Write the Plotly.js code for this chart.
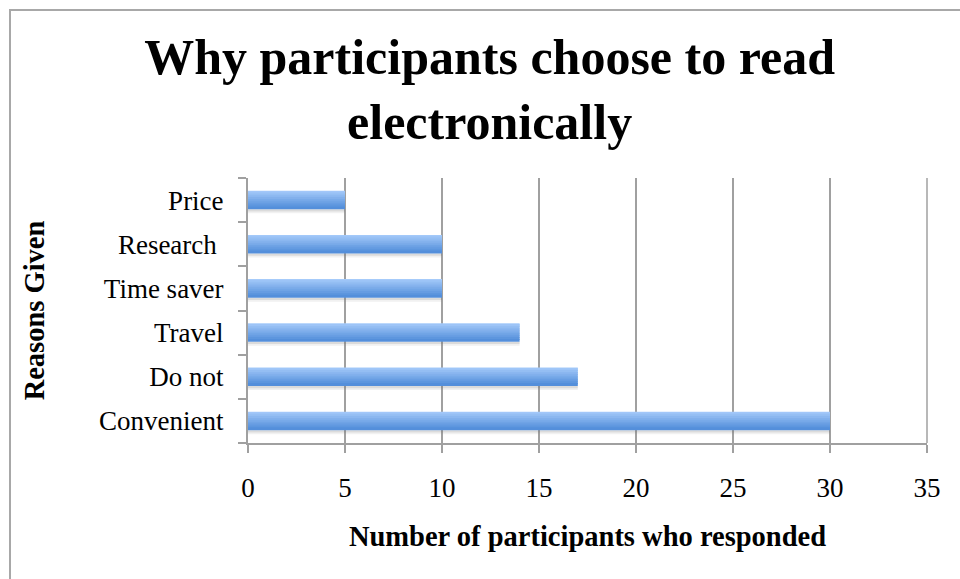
<!DOCTYPE html>
<html>
<head>
<meta charset="utf-8">
<script src="https://cdn.plot.ly/plotly-3.0.1.min.js"></script>
<style>
  html, body { margin: 0; padding: 0; background: #fff; }
  #wrap { position: relative; width: 960px; height: 579px; overflow: hidden; }
  #chart { position: absolute; left: 0; top: 0; width: 960px; height: 579px; }
  #frame { position: absolute; left: 9px; top: 9px; width: 1000px; height: 700px;
           border-left: 2px solid #a8a8a8; border-top: 2px solid #a8a8a8; pointer-events: none; }
</style>
</head>
<body>
<div id="wrap">
  <div id="chart"></div>
  <div id="frame"></div>
</div>
<script>
// ---- data ----
const categories = ['Convenient', 'Do not', 'Travel', 'Time saver', 'Research ', 'Price'];
const counts = [30, 17, 14, 10, 10, 5];
const xTickValues = [0, 5, 10, 15, 20, 25, 30, 35];

const titleText = 'Why participants choose to read<br>electronically';
const xTitle = 'Number of participants who responded';
const yTitle = 'Reasons Given';

// ---- styling (gradient bars built from stacked bands) ----
const barWidth = 0.42;
const topColor = [166, 203, 250];
const bottomColor = [84, 143, 219];
const n = 10;
const bandColors = [];
for (let i = 0; i < n; i++) {
  const t = i / (n - 1);
  const c = topColor.map((v, k) => Math.round(v + (bottomColor[k] - v) * t));
  bandColors.push('rgb(' + c.join(',') + ')');
}
const serif = 'Liberation Serif, Times New Roman, serif';

const traces = [];
const shadowBands = [
  {off: -barWidth/2 - 0.05, w: 0.05, c: 'rgba(110,110,110,0.25)'},
  {off: -barWidth/2 - 0.09, w: 0.04, c: 'rgba(140,140,140,0.12)'}
];
shadowBands.forEach(s => {
  traces.push({
    type: 'bar', orientation: 'h', x: counts, y: categories,
    width: s.w, offset: s.off,
    marker: {color: s.c, line: {width: 0}},
    hoverinfo: 'skip', showlegend: false
  });
});
const ovl = 0.025;
for (let i = 0; i < n; i++) {
  const w = barWidth / n;
  traces.push({
    type: 'bar', orientation: 'h', x: counts, y: categories,
    width: w + (i > 0 ? ovl : 0), offset: barWidth/2 - (i + 1) * w,
    marker: {color: bandColors[i], line: {width: 0}},
    hoverinfo: i === 0 ? 'x+y' : 'skip', showlegend: false
  });
}

const layout = {
  width: 960, height: 579,
  paper_bgcolor: 'rgba(0,0,0,0)', plot_bgcolor: '#ffffff',
  margin: {l: 248, r: 33, t: 178, b: 136},
  barmode: 'overlay',
  title: {
    text: titleText,
    font: {family: serif, size: 50, color: '#000', weight: 'bold'},
    x: 0.51, xanchor: 'center', y: 0.872, yanchor: 'middle'
  },
  xaxis: {
    range: [0, 35], tickvals: xTickValues, ticktext: xTickValues.map(String),
    showgrid: true, gridcolor: '#a0a0a0', gridwidth: 1.5,
    zeroline: false, showline: true, linecolor: '#a0a0a0', linewidth: 2,
    ticks: 'outside', ticklen: 8, tickwidth: 2, tickcolor: '#a0a0a0',
    ticklabelstandoff: 12,
    tickfont: {family: serif, size: 27, color: '#000'},
    fixedrange: true,
    title: {text: xTitle, font: {family: serif, size: 28.5, color: '#000', weight: 'bold'}, standoff: 24}
  },
  yaxis: {
    type: 'category', categoryorder: 'array', categoryarray: categories,
    range: [-0.5, categories.length - 0.5],
    showgrid: false, zeroline: false, showline: true, linecolor: '#a0a0a0', linewidth: 2,
    ticks: 'outside', tickson: 'boundaries', ticklen: 8, tickwidth: 2, tickcolor: '#a0a0a0',
    ticklabelstandoff: 17,
    tickfont: {family: serif, size: 27, color: '#000'},
    fixedrange: true,
    title: {text: yTitle, font: {family: serif, size: 28.5, color: '#000', weight: 'bold'}, standoff: 46}
  },
  shapes: [
    {type: 'line', xref: 'paper', yref: 'paper', x0: 1, x1: 1, y0: 0, y1: 1,
     line: {color: '#a0a0a0', width: 1.5}}
  ]
};

Plotly.newPlot('chart', traces, layout, {displayModeBar: false});
</script>
</body>
</html>
